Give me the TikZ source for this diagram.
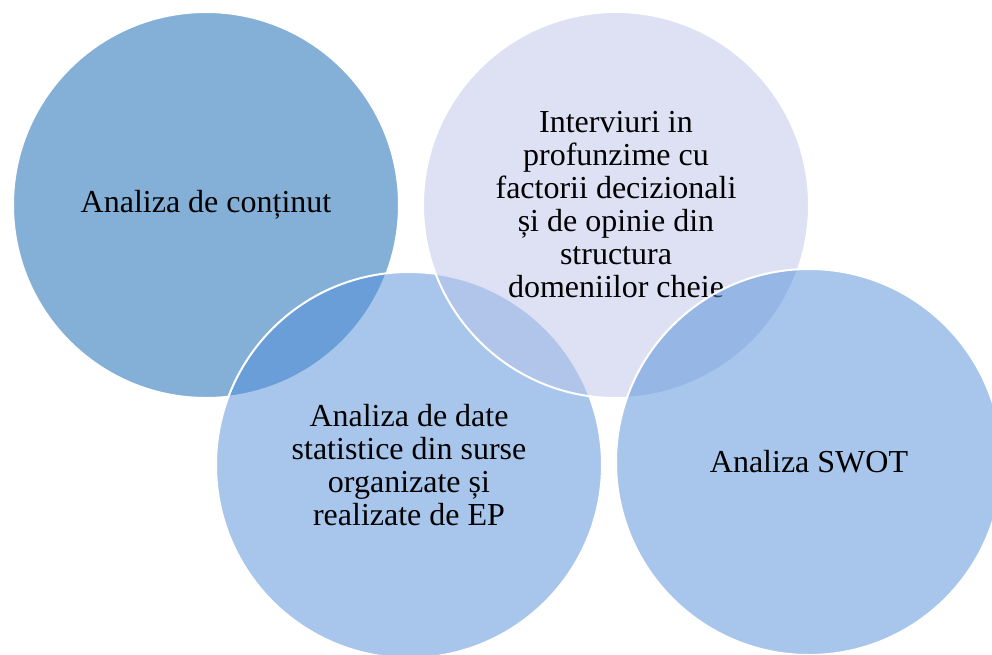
\documentclass[tikz,border=0pt]{standalone}
\usepackage{fontspec}
\setmainfont{Liberation Serif}
\definecolor{cA}{RGB}{132,175,215}
\definecolor{cB}{RGB}{187,195,231}
\definecolor{cC}{RGB}{81,142,217}
\begin{document}
\begin{tikzpicture}[x=0.75pt,y=-0.75pt,
  venn/.style={circle, minimum size=289.5pt, inner sep=0pt, draw=white, line width=1.5pt,
    align=center, font=\fontsize{24}{24.75}\selectfont, text=black, text opacity=1},
  half/.style={fill opacity=0.5, draw opacity=1}]
\useasboundingbox (0,0) rectangle (992,654);
\clip (0,0) rectangle (992,654);
\node[venn, fill=cA] (c1) at (206,205) {Analiza de conținut};
\node[venn, half, fill=cC] (c3) at (409,465) {Analiza de date\\statistice din surse\\organizate și\\realizate de EP};
\node[venn, half, fill=cB] (c2) at (616,205) {Interviuri in\\profunzime cu\\factorii decizionali\\și de opinie din\\structura\\domeniilor cheie};
\node[venn, half, fill=cC] (c4) at (809,462) {Analiza SWOT};
\end{tikzpicture}
\end{document}
